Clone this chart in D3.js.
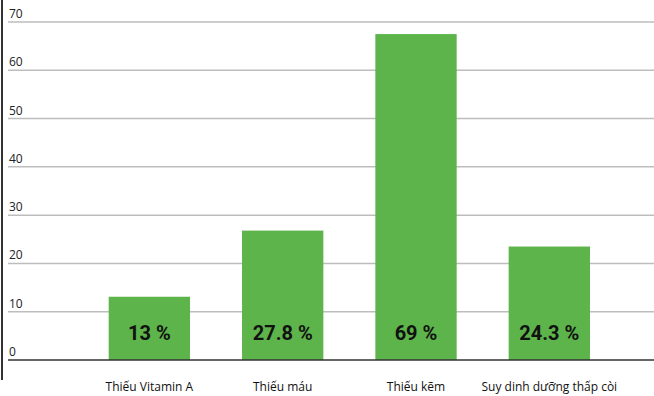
<!DOCTYPE html>
<html>
<head>
<meta charset="utf-8">
<script src="https://cdn.jsdelivr.net/npm/d3@7"></script>
<style>
  body { margin: 0; background: #fff; }
  svg { display: block; }
</style>
</head>
<body>
<svg id="chart" width="654" height="396"></svg>
<script>
window.onload = function() {

  // Data
  var categories = ["Thiếu Vitamin A", "Thiếu máu", "Thiếu kẽm", "Suy dinh dưỡng thấp còi"],
      values = [13.1, 26.8, 67.5, 23.5],
      valueLabels = ["13 %", "27.8 %", "69 %", "24.3 %"],
      yTicks = [0, 10, 20, 30, 40, 50, 60, 70];

  var width = 654,
      height = 396,
      svg = d3.select("#chart");

  var x = d3.scaleBand()
    .domain(categories)
    .range([82.7, 616])
    .paddingInner(0.39)
    .paddingOuter(0.195);

  var y = d3.scaleLinear()
    .domain([0, 70])
    .range([360, 22]);

  // Gridlines
  svg.append("g").selectAll("line")
    .data(yTicks.filter(function(d) { return d > 0; }))
    .enter().append("line")
      .attr("x1", 8)
      .attr("x2", width)
      .attr("y1", function(d) { return y(d); })
      .attr("y2", function(d) { return y(d); })
      .attr("stroke", "#bdbdbd")
      .attr("stroke-width", 1.5);

  // Tick labels
  svg.append("g").selectAll("text")
    .data(yTicks)
    .enter().append("text")
      .attr("x", 9)
      .attr("y", function(d) { return y(d) - 4; })
      .attr("font-family", "'Open Sans', sans-serif")
      .attr("font-size", 12)
      .attr("fill", "#222")
      .text(function(d) { return d; });

  // Bars
  svg.append("g").selectAll("rect")
    .data(values)
    .enter().append("rect")
      .attr("x", function(d, i) { return x(categories[i]); })
      .attr("y", function(d) { return y(d); })
      .attr("width", x.bandwidth())
      .attr("height", function(d) { return y(0) - y(d); })
      .attr("fill", "#5db44b");

  // Value labels inside bars
  svg.append("g").selectAll("text")
    .data(valueLabels)
    .enter().append("text")
      .attr("x", function(d, i) { return x(categories[i]) + x.bandwidth() / 2; })
      .attr("y", 340)
      .attr("text-anchor", "middle")
      .attr("font-family", "Roboto, sans-serif")
      .attr("font-weight", "bold")
      .attr("font-size", 20)
      .attr("fill", "#111")
      .text(function(d) { return d; });

  // Zero line
  svg.append("line")
    .attr("x1", 8)
    .attr("x2", width)
    .attr("y1", y(0))
    .attr("y2", y(0))
    .attr("stroke", "#333")
    .attr("stroke-width", 1.5);

  // Left axis line
  svg.append("line")
    .attr("x1", 2)
    .attr("x2", 2)
    .attr("y1", 0)
    .attr("y2", 380)
    .attr("stroke", "#333")
    .attr("stroke-width", 2);

  // Category labels
  svg.append("g").selectAll("text")
    .data(categories)
    .enter().append("text")
      .attr("x", function(d) { return x(d) + x.bandwidth() / 2; })
      .attr("y", 391)
      .attr("text-anchor", "middle")
      .attr("font-family", "'Open Sans', sans-serif")
      .attr("font-size", 12)
      .attr("fill", "#111")
      .text(function(d) { return d; });
}
</script>
</body>
</html>
